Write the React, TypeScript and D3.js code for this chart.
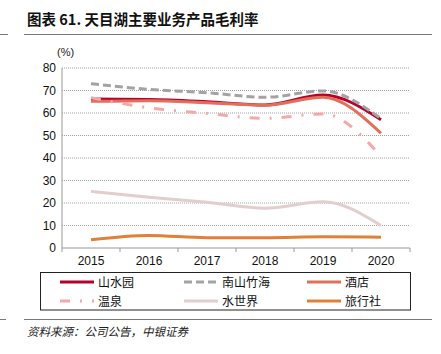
import React from 'react';
import * as d3 from 'd3';

const years = ['2015', '2016', '2017', '2018', '2019', '2020'];
const shanshuiyuan = [66.2, 66.0, 65.0, 63.6, 68.0, 57.0];
const nanshan = [73.0, 70.5, 69.0, 67.0, 69.8, 57.5];
const hotel = [65.2, 65.5, 64.6, 63.5, 67.0, 51.0];
const hotSpring = [66.8, 62.3, 59.8, 57.6, 59.6, 40.8];
const waterWorld = [25.2, 22.6, 20.3, 17.7, 20.6, 10.0];
const travel = [3.7, 5.6, 4.6, 4.6, 5.0, 4.8];
const yTicks = [0, 10, 20, 30, 40, 50, 60, 70, 80];

const series = [
  { name: '山水园', values: shanshuiyuan, color: '#B8002C', dash: '' },
  { name: '南山竹海', values: nanshan, color: '#A3A3A3', dash: '8,4' },
  { name: '酒店', values: hotel, color: '#E0705C', dash: '' },
  { name: '温泉', values: hotSpring, color: '#F2A9A9', dash: '10,10,2,10' },
  { name: '水世界', values: waterWorld, color: '#E2CECE', dash: '' },
  { name: '旅行社', values: travel, color: '#E0813A', dash: '' },
];

const margin = { left: 62, right: 31, top: 68, bottom: 106 };
const W = 441;
const H = 354;

const x = d3.scaleBand().domain(years).range([margin.left, W - margin.right]);
const y = d3.scaleLinear().domain([0, 80]).range([H - margin.bottom, margin.top]);

const line = d3
  .line<number>()
  .x((_, i) => (x(years[i]) as number) + x.bandwidth() / 2)
  .y((d) => y(d))
  .curve(d3.curveMonotoneX);

const font = 'Liberation Sans, Arial, sans-serif';
const cjk = 'Noto Sans CJK SC, sans-serif';

const App = () => {
  const legendCols = [60, 184, 307];
  const legendRows = [282, 301];
  const bottom = H - margin.bottom;

  return (
    <svg width={W} height={H} style={{ position: 'absolute', left: 0, top: 0, background: '#fff' }}>
      <text x={27} y={25} fontFamily={cjk} fontSize={14.5} fontWeight="bold" fill="#111">
        图表 61. 天目湖主要业务产品毛利率
      </text>
      <line x1={0} x2={8} y1={34.5} y2={34.5} stroke="#777" strokeWidth={1} />
      <line x1={24} x2={432} y1={34.5} y2={34.5} stroke="#777" strokeWidth={1} />

      <text x={57} y={56} fontFamily={font} fontSize={11} fill="#222">(%)</text>

      {yTicks.map((t) => (
        <g key={t}>
          {t > 0 && (
            <line x1={margin.left} x2={W - margin.right} y1={y(t)} y2={y(t)}
              stroke="#888" strokeWidth={0.8} strokeDasharray="1,1" />
          )}
          <text x={56} y={y(t) + 4} textAnchor="end" fontFamily={font} fontSize={12} fill="#111">{t}</text>
        </g>
      ))}
      <line x1={margin.left} x2={margin.left} y1={margin.top} y2={bottom} stroke="#999" />
      <line x1={margin.left} x2={W - margin.right} y1={bottom} y2={bottom} stroke="#999" />
      {years.map((yr, i) => (
        <g key={yr}>
          <line x1={x(yr) as number} x2={x(yr) as number} y1={bottom} y2={bottom + 4} stroke="#999" />
          <text x={(x(yr) as number) + x.bandwidth() / 2} y={bottom + 17} textAnchor="middle"
            fontFamily={font} fontSize={12} fill="#111">{yr}</text>
        </g>
      ))}
      <line x1={W - margin.right} x2={W - margin.right} y1={bottom} y2={bottom + 4} stroke="#999" />

      {series.map((s) => (
        <path key={s.name} d={line(s.values) as string} fill="none" stroke={s.color}
          strokeWidth={3} strokeDasharray={s.dash || undefined} />
      ))}

      <rect x={40.5} y={272.5} width={370} height={37.5} fill="#fff" stroke="#222" strokeWidth={1} />
      {series.map((s, i) => {
        const cx = legendCols[i % 3];
        const cy = legendRows[Math.floor(i / 3)];
        return (
          <g key={s.name}>
            <line x1={cx} x2={cx + 34} y1={cy} y2={cy} stroke={s.color} strokeWidth={3}
              strokeDasharray={s.dash || undefined} />
            <text x={cx + 38} y={cy + 4.5} fontFamily={cjk} fontSize={12} fill="#111">{s.name}</text>
          </g>
        );
      })}

      <line x1={0} x2={6} y1={319.5} y2={319.5} stroke="#777" />
      <line x1={24} x2={432} y1={319.5} y2={319.5} stroke="#777" />
      <text x={27} y={336} fontFamily={cjk} fontSize={11.5} fontStyle="italic" fill="#222">
        资料来源：公司公告，中银证券
      </text>
    </svg>
  );
};

export default App;
